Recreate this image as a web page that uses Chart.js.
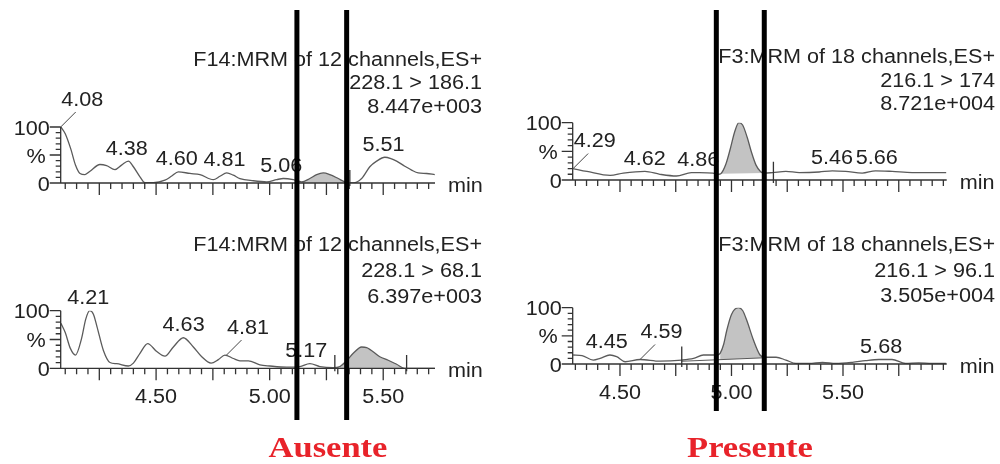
<!DOCTYPE html>
<html>
<head>
<meta charset="utf-8">
<script src="https://cdn.jsdelivr.net/npm/chart.js@4.4.1/dist/chart.umd.min.js"></script>
<style>
html,body{margin:0;padding:0;background:#fff;}
#wrap{position:relative;width:1000px;height:464px;overflow:hidden;background:#fff;}
#wrap canvas{position:absolute;left:0;top:0;}
.tag{position:absolute;top:432px;font-family:"Liberation Serif","Times New Roman",serif;font-weight:bold;font-size:30px;line-height:30px;color:#e8232a;white-space:nowrap;transform:translateX(-50%) scaleX(1.15);}
</style>
</head>
<body>
<div id="wrap">
  <canvas id="cTL" width="1000" height="464"></canvas>
  <canvas id="cTR" width="1000" height="464"></canvas>
  <canvas id="cBL" width="1000" height="464"></canvas>
  <canvas id="cBR" width="1000" height="464"></canvas>
  <div class="tag" style="left:328px">Ausente</div>
  <div class="tag" style="left:750px">Presente</div>
</div>
<script>
// ---------------- DATA ----------------
// Left column (Ausente), time axis (min)
const leftRange = [4.08, 5.728];
const rightRange = [4.288, 5.965];
const xTickLabels = [4.50, 5.00, 5.50];

// Top-left: F14 MRM 228.1 > 186.1
const tlTimes = [4.081,4.10,4.125,4.145,4.165,4.187,4.209,4.253,4.282,4.319,4.348,4.378,4.40,4.429,4.451,4.488,4.539,4.569,4.598,4.649,4.693,4.752,4.781,4.811,4.84,4.869,4.928,4.987,5.031,5.06,5.104,5.141,5.177,5.207,5.236,5.265,5.302,5.331,5.368,5.405,5.441,5.471,5.507,5.537,5.559,5.595,5.625,5.654,5.691,5.727];
const tlValues = [100,88,60,32,17,15,21,33,31,24,32,39,29,11,0.5,0.5,5,12.5,20,17,15,6,12,18,14,8,4,2,6,8,6,2,8,15,18,15,8,2,0,8,29,39,46,43,39,30,23,18,17,15];
const tlPeakWindow = [5.141, 5.331];
const tlHeader = ["F14:MRM of 12 channels,ES+", "228.1 > 186.1", "8.447e+003"];
const tlLabels = ["4.08","4.38","4.60","4.81","5.06","5.51"];
const tlLabelValues = [100,39,20,18,8,46];
const tlMarkers = [5.353];
const tlMarkerHeights = [23];

// Bottom-left: F14 MRM 228.1 > 68.1
const blTimes = [4.081,4.10,4.122,4.145,4.172,4.19,4.208,4.224,4.24,4.268,4.297,4.326,4.378,4.40,4.429,4.463,4.503,4.539,4.576,4.62,4.664,4.701,4.742,4.774,4.803,4.84,4.869,4.906,4.957,5.001,5.075,5.133,5.177,5.221,5.28,5.309,5.339,5.368,5.405,5.427,5.485,5.522,5.559,5.595,5.632,5.727];
const blValues = [78,62,35,23,52,85,100,94,72,31,10,8,4,9,26,43,29,21,37,53,37,20,9,15,23,17,13,13,6,4,2,3,8,3,1,3,13,26,37,36,20,14,7,0,0,0];
const blPeakWindow = [5.309, 5.632];
const blHeader = ["F14:MRM of 12 channels,ES+", "228.1 > 68.1", "6.397e+003"];
const blLabels = ["4.21","4.63","4.81","5.17"];
const blLabelValues = [100,53,23,8];
const blMarkers = [5.287, 5.603];
const blMarkerHeights = [23, 23];
const leftCuts = [5.120, 5.339];

// Top-right: F3 MRM 216.1 > 174
const trTimes = [4.29,4.352,4.456,4.515,4.612,4.679,4.753,4.82,4.857,4.917,4.942,4.952,4.975,4.995,5.015,5.033,5.05,5.07,5.09,5.11,5.13,5.147,5.185,5.244,5.304,5.393,5.452,5.512,5.586,5.646,5.72,5.81,5.963];
const trValues = [20,15,8,12,15,10,7,13,13,12,10,11,28,55,85,100,96,75,48,26,15,12,13,15,13,14,16,15,12,16,15,13,13];
const trPeakWindow = [4.952, 5.147];
const trBaseTimes = [4.952, 5.147];
const trBaseValues = [11, 12];
const trHeader = ["F3:MRM of 18 channels,ES+", "216.1 > 174", "8.721e+004"];
const trLabels = ["4.29","4.62","4.86","5.46","5.66"];
const trLabelValues = [20,15,13,16,16];
const trMarkers = [5.188];
const trMarkerHeights = [32];

// Bottom-right: F3 MRM 216.1 > 96.1
const brTimes = [4.29,4.33,4.38,4.411,4.455,4.485,4.523,4.59,4.68,4.777,4.83,4.874,4.934,4.949,4.965,4.979,5.0,5.031,5.05,5.068,5.098,5.128,5.15,5.2,5.244,5.289,5.348,5.408,5.468,5.542,5.601,5.661,5.72,5.78,5.839,5.899,5.963];
const brValues = [16,15,7,10,16,13,4,8,5,7,10,16,16,19,35,60,88,100,95,78,43,16,12,12,7,1,1,3,1,3,6,8,8,1,2,1,1];
const brPeakWindow = [4.949, 5.15];
const brBaseTimes = [4.777, 5.15];
const brBaseValues = [5, 11];
const brHeader = ["F3:MRM of 18 channels,ES+", "216.1 > 96.1", "3.505e+004"];
const brLabels = ["4.45","4.59","5.68"];
const brLabelValues = [16,8,8];
const brMarkers = [4.777];
const brMarkerHeights = [31];
const rightCuts = [4.932, 5.147];

// ---------------- STYLE / LAYOUT ----------------
const TRACE = '#5b5b5b';
const FILLC = '#c3c3c3';
const INK = '#222222';
const AXIS = '#333333';
const FONT = '20px "Liberation Sans", Arial, sans-serif';
const SX = 1.08;

const layouts = {
  TL: {box:[60.7, 435, 127, 183], headX: 482, headY:[65.5, 88.5, 112.5], leader:[1,0,0,0,0,0], xLabels:false},
  BL: {box:[60.7, 435, 310.7, 368.3], headX: 482, headY:[250.5, 276.5, 302.5], leader:[0,0,1,0], xLabels:true, cutSpan:[10, 420]},
  TR: {box:[572.7, 946.7, 122.7, 180], headX: 995, headY:[62.5, 86.5, 109.5], leader:[1,0,0,0,0], xLabels:false},
  BR: {box:[572.7, 946.7, 307.7, 364], headX: 995, headY:[250.5, 276.5, 301.5], leader:[0,1,0], xLabels:true, cutSpan:[10, 411]}
};

function txt(ctx, s, x, y, align) {
  ctx.save();
  ctx.translate(x, y);
  ctx.scale(SX, 1);
  ctx.font = FONT;
  ctx.fillStyle = INK;
  ctx.textAlign = align;
  ctx.textBaseline = 'alphabetic';
  ctx.fillText(s, 0, 0);
  ctx.restore();
}

function pts(ts, vs, win) {
  const out = [];
  ts.forEach((t, i) => {
    if (!win || (t >= win[0] - 1e-9 && t <= win[1] + 1e-9)) out.push({x: t, y: vs[i]});
  });
  return out;
}

function makePanel(id, d, L) {
  const datasets = [
    {data: pts(d.times, d.values), borderColor: TRACE, borderWidth: 1.3, fill: false}
  ];
  if (d.baseTimes) {
    datasets.push({data: pts(d.baseTimes, d.baseValues), borderColor: d.showBase ? TRACE : 'rgba(0,0,0,0)',
      borderWidth: 1.1, fill: false, cubicInterpolationMode: 'default', tension: 0});
  }
  datasets.push({data: pts(d.times, d.values, d.window), borderColor: 'rgba(0,0,0,0)', borderWidth: 1,
    backgroundColor: FILLC, fill: d.baseTimes ? 1 : 'origin'});

  const deco = {
    id: 'deco_' + id,
    afterDraw(chart) {
      const ctx = chart.ctx, xs = chart.scales.x, ys = chart.scales.y;
      const x0 = xs.getPixelForValue(d.range[0]), x1 = xs.getPixelForValue(d.range[1]);
      const y0 = ys.getPixelForValue(0), y100 = ys.getPixelForValue(100), y50 = ys.getPixelForValue(50);
      ctx.save();
      ctx.strokeStyle = AXIS; ctx.lineWidth = 1.3;
      ctx.beginPath();
      ctx.moveTo(x0, y100); ctx.lineTo(x0, y0); ctx.lineTo(x1, y0);
      for (let v = 0; v <= 100; v += 10) {
        const y = ys.getPixelForValue(v);
        const len = (v % 50 === 0) ? 11 : 5;
        ctx.moveTo(x0 - len, y); ctx.lineTo(x0, y);
      }
      const k0 = Math.ceil(d.range[0] * 20 - 1e-6), k1 = Math.floor(d.range[1] * 20 + 1e-6);
      for (let k = k0; k <= k1; k++) {
        const x = xs.getPixelForValue(k / 20);
        const len = (k % 5 === 0) ? 12 : 6;
        ctx.moveTo(x, y0); ctx.lineTo(x, y0 + len);
      }
      // integration markers
      d.markers.forEach((t, i) => {
        const x = xs.getPixelForValue(t);
        ctx.moveTo(x, ys.getPixelForValue(d.markerHeights[i])); ctx.lineTo(x, y0 + 3);
      });
      ctx.stroke();

      // y labels
      txt(ctx, '100', x0 - 11, y100 + 7.5, 'right');
      txt(ctx, '%', x0 - 15, y50 + 7.5, 'right');
      txt(ctx, '0', x0 - 11, y0 + 7.5, 'right');
      // x labels
      if (L.xLabels) {
        xTickLabels.forEach(v => txt(ctx, v.toFixed(2), xs.getPixelForValue(v), y0 + 35, 'center'));
      }
      txt(ctx, 'min', x1 + 13, y0 + 9, 'left');
      // header
      d.header.forEach((s, i) => txt(ctx, s, L.headX, L.headY[i], 'right'));
      // peak labels
      ctx.strokeStyle = '#444'; ctx.lineWidth = 1;
      d.labels.forEach((s, i) => {
        const t = parseFloat(s);
        const px = xs.getPixelForValue(t), py = ys.getPixelForValue(d.labelValues[i]);
        if (L.leader[i]) {
          ctx.beginPath(); ctx.moveTo(px, py); ctx.lineTo(px + 15, py - 15); ctx.stroke();
          txt(ctx, s, px + 21.5, py - 21.5, 'center');
        } else {
          txt(ctx, s, px - 2, py - 6.5, 'center');
        }
      });
      // cut lines
      if (L.cutSpan) {
        ctx.strokeStyle = '#000'; ctx.lineWidth = 5;
        d.cuts.forEach(t => {
          const x = xs.getPixelForValue(t);
          ctx.beginPath(); ctx.moveTo(x, L.cutSpan[0]); ctx.lineTo(x, L.cutSpan[1]); ctx.stroke();
        });
      }
      ctx.restore();
    }
  };

  const b = L.box;
  return new Chart(document.getElementById(id), {
    type: 'line',
    data: {datasets},
    options: {
      responsive: false, animation: false, devicePixelRatio: 1,
      layout: {padding: {left: b[0], right: 1000 - b[1], top: b[2], bottom: 464 - b[3]}},
      parsing: true,
      elements: {point: {radius: 0}, line: {cubicInterpolationMode: 'monotone', borderJoinStyle: 'round'}},
      scales: {
        x: {type: 'linear', min: d.range[0], max: d.range[1], display: false},
        y: {type: 'linear', min: 0, max: 100, display: false}
      },
      plugins: {legend: {display: false}, tooltip: {enabled: false}, title: {display: false}}
    },
    plugins: [deco]
  });
}

makePanel('cTL', {range: leftRange, times: tlTimes, values: tlValues, window: tlPeakWindow, header: tlHeader,
  labels: tlLabels, labelValues: tlLabelValues, markers: tlMarkers, markerHeights: tlMarkerHeights}, layouts.TL);
makePanel('cTR', {range: rightRange, times: trTimes, values: trValues, window: trPeakWindow,
  baseTimes: trBaseTimes, baseValues: trBaseValues, showBase: false, header: trHeader,
  labels: trLabels, labelValues: trLabelValues, markers: trMarkers, markerHeights: trMarkerHeights}, layouts.TR);
makePanel('cBL', {range: leftRange, times: blTimes, values: blValues, window: blPeakWindow, header: blHeader,
  labels: blLabels, labelValues: blLabelValues, markers: blMarkers, markerHeights: blMarkerHeights, cuts: leftCuts}, layouts.BL);
makePanel('cBR', {range: rightRange, times: brTimes, values: brValues, window: brPeakWindow,
  baseTimes: brBaseTimes, baseValues: brBaseValues, showBase: true, header: brHeader,
  labels: brLabels, labelValues: brLabelValues, markers: brMarkers, markerHeights: brMarkerHeights, cuts: rightCuts}, layouts.BR);
</script>
</body>
</html>
